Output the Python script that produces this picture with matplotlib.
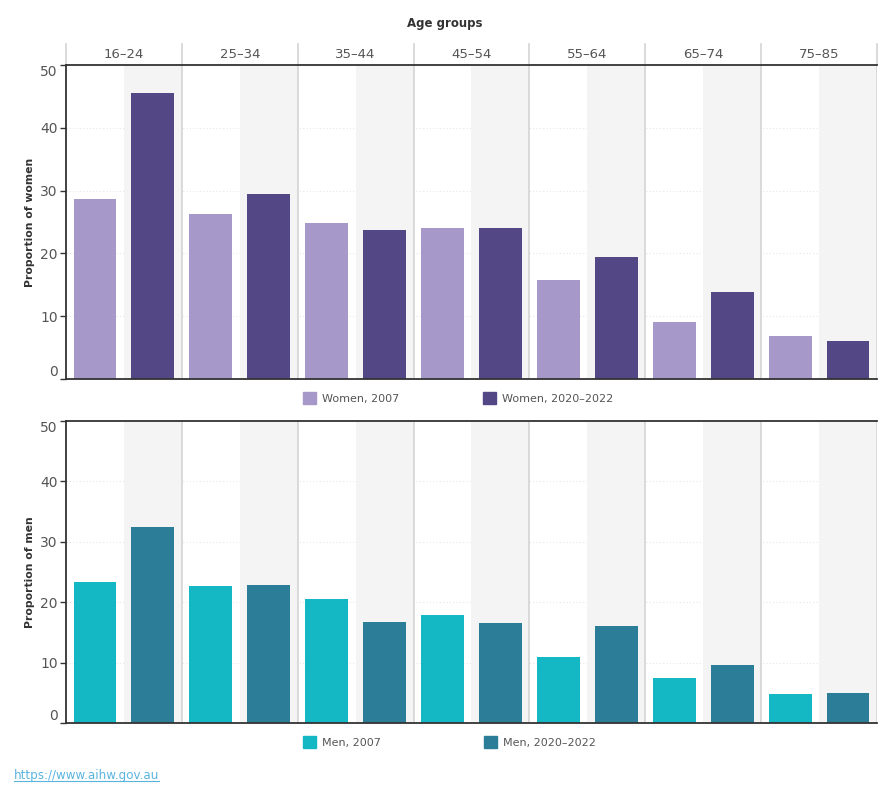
import matplotlib
matplotlib.use("Agg")
from matplotlib import pyplot as plt
from matplotlib.patches import Patch
from matplotlib.lines import Line2D
import numpy as np

age_groups = ['16–24', '25–34', '35–44', '45–54', '55–64', '65–74', '75–85']
women_2007 = [28.6, 26.3, 24.9, 24.0, 15.7, 9.0, 6.8]
women_2020 = [45.6, 29.5, 23.8, 24.0, 19.5, 13.8, 6.0]
men_2007 = [23.3, 22.6, 20.5, 17.9, 10.9, 7.4, 4.8]
men_2020 = [32.4, 22.8, 16.7, 16.5, 16.0, 9.6, 5.0]

c_w07 = '#a698c8'
c_w20 = '#544785'
c_m07 = '#14b8c4'
c_m20 = '#2c7d97'
text_col = '#555555'
sep_col = '#d4d4d4'

fig = plt.figure(figsize=(8.9, 8.0), dpi=100)
ax1 = fig.add_axes([66 / 890, 1 - 379 / 800, 811 / 890, 314 / 800])
ax2 = fig.add_axes([66 / 890, 1 - 723 / 800, 811 / 890, 302 / 800])

n = len(age_groups)
x = np.arange(n)
bw = 0.74


def draw_panel(ax, v07, v20, c07, c20, ylabel, ytop, header):
    for i in range(n):
        ax.axvspan(2 * i + 1, 2 * i + 2, color='#f4f4f4', zorder=0.5, lw=0)
    for i in range(1, n + 1):
        ax.axvline(2 * i, color=sep_col, lw=1.2, zorder=1)
    for g in [10, 20, 30, 40]:
        ax.axhline(g, color='#e6e6e6', lw=0.8, ls=(0, (1, 2)), zorder=0.2)
    ax.bar(2 * x + 0.5, v07, width=bw, color=c07, zorder=2)
    ax.bar(2 * x + 1.5, v20, width=bw, color=c20, zorder=2)
    ax.set_xlim(0, 2 * n)
    ax.set_ylim(0, ytop)
    ax.set_xticks([])
    ax.set_yticks([0, 10, 20, 30, 40, 50])
    ax.tick_params(axis='y', length=4, width=1, color='#333333', labelsize=10,
                   labelcolor=text_col, pad=2)
    labels = ax.get_yticklabels()
    labels[0].set_va('bottom')
    labels[-1].set_va('top')
    for s in ['left', 'bottom', 'top']:
        ax.spines[s].set_color('#333333')
        ax.spines[s].set_linewidth(1.3)
    ax.spines['right'].set_visible(False)
    ax.set_ylabel(ylabel, fontsize=7.8, fontweight='bold', color='#333333')
    ax.yaxis.set_label_coords(-31 / 811, 0.5)
    if header:
        trans = ax.get_xaxis_transform()
        h = 21 / 314
        for i in range(n + 1):
            ax.add_line(Line2D([2 * i, 2 * i], [1, 1 + h], transform=trans,
                               color=sep_col, lw=1.2, clip_on=False))
        for i, g in enumerate(age_groups):
            ax.text(2 * i + 1, 1 + h / 2, g, transform=trans, ha='center',
                    va='center', fontsize=9.5, color=text_col)


draw_panel(ax1, women_2007, women_2020, c_w07, c_w20, 'Proportion of women', 49.8, True)
draw_panel(ax2, men_2007, men_2020, c_m07, c_m20, 'Proportion of men', 50.0, False)

fig.text(0.5, 1 - 24 / 800, 'Age groups', ha='center', va='center',
         fontsize=8.5, fontweight='bold', color='#333333')

leg_kw = dict(loc='center left', ncol=2, frameon=False, columnspacing=7.5,
              handlelength=1.2, handleheight=1.2, handletextpad=0.55,
              borderpad=0, borderaxespad=0, fontsize=8, labelcolor=text_col)
fig.legend([Patch(color=c_w07), Patch(color=c_w20)],
           ['Women, 2007', 'Women, 2020–2022'],
           bbox_to_anchor=(303 / 890, 1 - 398 / 800), **leg_kw)
leg_kw['columnspacing'] = 9.2
fig.legend([Patch(color=c_m07), Patch(color=c_m20)],
           ['Men, 2007', 'Men, 2020–2022'],
           bbox_to_anchor=(303 / 890, 1 - 742 / 800), **leg_kw)

url = fig.text(14 / 890, 1 - 775 / 800, 'https://www.aihw.gov.au', ha='left',
               va='center', fontsize=8.6, color='#5ab4e0')
fig.canvas.draw()
bb = url.get_window_extent().transformed(fig.transFigure.inverted())
fig.add_artist(Line2D([bb.x0, bb.x1], [bb.y0 + 0.001, bb.y0 + 0.001],
                      transform=fig.transFigure, color='#5ab4e0', lw=0.8))

fig.savefig('out.png', dpi=100)
